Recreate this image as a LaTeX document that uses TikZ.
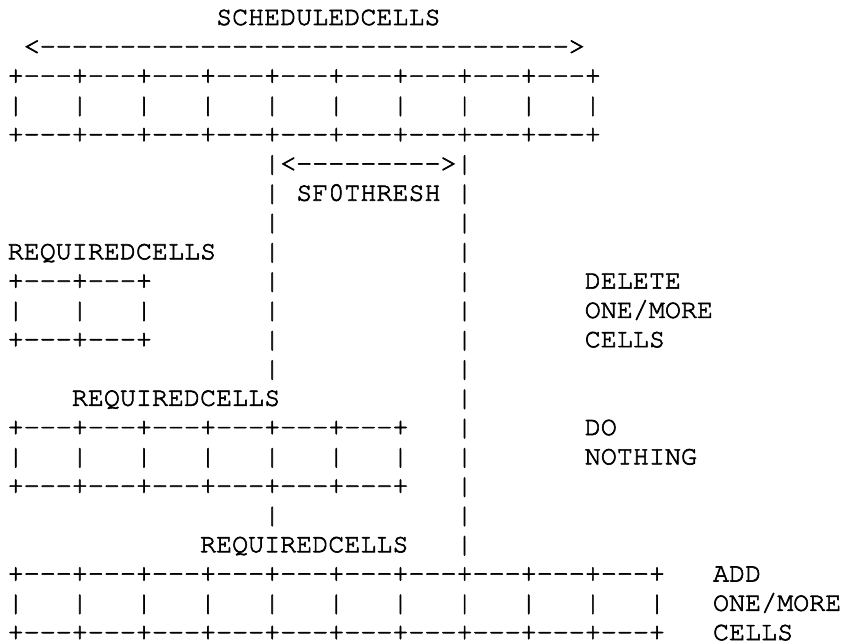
\documentclass[tikz,border=0pt]{standalone}
\usepackage[T1]{fontenc}
\usepackage{courier}
\newcommand\dashrun[1]{\foreach\k in {1,...,#1}{-}}
\newcommand\gridedge[1]{+\foreach\k in {1,...,#1}{-{}-{}-+}}
\newcommand\gridwall[1]{|\foreach\k in {1,...,#1}{\hphantom{xxx}|}}
\begin{document}
\begin{tikzpicture}[
  txt/.style={anchor=base west,inner sep=0pt,outer sep=0pt,
    font=\ttfamily\fontsize{26.72}{29.3}\selectfont,
    execute at begin node=\special{pdf:literal direct 2 Tr 0.6 w},
    execute at end node=\special{pdf:literal direct 0 Tr}}]
\fill[white] (0,0) rectangle (842pt,-644pt);
\useasboundingbox (0,0) rectangle (842pt,-644pt);
\begin{scope}[x=16.03pt,y=-29.29pt,shift={(7.7pt,-25pt)}]
  % scheduled cells
  \node[txt] (schedlabel) at (13,0) {SCHEDULEDCELLS};
  \node[txt] (schedspan) at (1,1) {<\dashrun{33}>};
  \node[txt] (schedtop) at (0,2) {\gridedge{9}};
  \node[txt] (schedmid) at (0,3) {\gridwall{9}};
  \node[txt] (schedbot) at (0,4) {\gridedge{9}};
  % threshold
  \node[txt] (thrspan) at (17,5) {<\dashrun{9}>};
  \node[txt] (thrlabel) at (18,6) {SF0THRESH};
  \foreach \r in {5,6,7,8,9,10,11,12,17}
    \node[txt] (lbar\r) at (16,\r) {|};
  \foreach \r in {5,6,7,8,9,10,11,12,13,14,15,16,17,18}
    \node[txt] (rbar\r) at (28,\r) {|};
  % case 1
  \node[txt] (reqa) at (0,8) {REQUIREDCELLS};
  \node[txt] (reqatop) at (0,9) {\gridedge{2}};
  \node[txt] (reqamid) at (0,10) {\gridwall{2}};
  \node[txt] (reqabot) at (0,11) {\gridedge{2}};
  \node[txt] (dela) at (36,9) {DELETE};
  \node[txt] (delb) at (36,10) {ONE/MORE};
  \node[txt] (delc) at (36,11) {CELLS};
  % case 2
  \node[txt] (reqb) at (4,13) {REQUIREDCELLS};
  \node[txt] (reqbtop) at (0,14) {\gridedge{6}};
  \node[txt] (reqbmid) at (0,15) {\gridwall{6}};
  \node[txt] (reqbbot) at (0,16) {\gridedge{6}};
  \node[txt] (noa) at (36,14) {DO};
  \node[txt] (nob) at (36,15) {NOTHING};
  % case 3
  \node[txt] (reqc) at (12,18) {REQUIREDCELLS};
  \node[txt] (reqctop) at (0,19) {\gridedge{10}};
  \node[txt] (reqcmid) at (0,20) {\gridwall{10}};
  \node[txt] (reqcbot) at (0,21) {\gridedge{10}};
  \node[txt] (adda) at (44,19) {ADD};
  \node[txt] (addb) at (44,20) {ONE/MORE};
  \node[txt] (addc) at (44,21) {CELLS};
\end{scope}
\end{tikzpicture}
\end{document}
